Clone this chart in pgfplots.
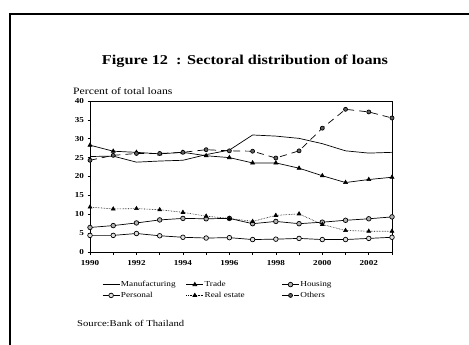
\documentclass[border=0pt]{standalone}
\usepackage{pgfplots}
\pgfplotsset{compat=1.18}
\usepackage{fontspec}
\setmainfont{Liberation Serif}[FakeStretch=1.2]
\begin{document}
\begin{tikzpicture}
\path[use as bounding box] (0,0) rectangle (469bp,345bp);
\draw[line width=1.5bp] (10bp,0) -- (10bp,331bp) -- (469bp,331bp);
\node[font=\bfseries\fontsize{13.6}{15}\selectfont] at (245bp,284bp) {Figure 12\ \ : Sectoral distribution of loans};
\node[anchor=west,inner sep=0,font=\fontsize{9.8}{12}\selectfont] at (73bp,254bp) {Percent of total loans};
\node[anchor=west,inner sep=0,font=\fontsize{8.9}{11}\selectfont] at (77bp,22bp) {Source:Bank of Thailand};
\begin{axis}[
  at={(90bp,93bp)}, anchor=south west,
  scale only axis, width=302bp, height=151bp,
  xmin=1990, xmax=2003, ymin=0, ymax=40,
  xtick={1990,1992,...,2002}, minor xtick={1991,1993,...,2003},
  ytick={0,5,...,40},
  xtick pos=left, ytick pos=left, tick align=outside,
  major tick length=2.5bp, minor tick length=2.5bp,
  tick style={black, line width=0.6bp},
  axis line style={line width=0.6bp},
  ticklabel style={font=\bfseries\fontsize{7.6}{8}\selectfont},
  /pgf/number format/assume math mode=true,
  /pgf/number format/1000 sep={},
  xticklabel style={yshift=-2bp},
  legend columns=3,
  legend style={at={(0.04,-0.185)}, anchor=north west, draw=none, fill=none,
    font=\fontsize{7.7}{9}\selectfont, inner sep=0pt, row sep=2pt,
    nodes={inner sep=1pt}},
  legend cell align=left,
]
\addplot[black, line width=0.7bp, mark=none] coordinates {
(1990,25.3)(1991,25.4)(1992,23.8)(1993,24.1)(1994,24.3)(1995,25.8)(1996,27.0)
(1997,31.0)(1998,30.7)(1999,30.1)(2000,28.7)(2001,26.8)(2002,26.2)(2003,26.4)};
\addlegendentry{\makebox[64bp][l]{Manufacturing}}
\addplot[black, line width=0.7bp, mark=triangle*, mark size=2.2bp, mark options={solid,fill=black}] coordinates {
(1990,28.3)(1991,26.7)(1992,26.4)(1993,26.0)(1994,26.4)(1995,25.5)(1996,25.0)
(1997,23.6)(1998,23.6)(1999,22.2)(2000,20.2)(2001,18.4)(2002,19.2)(2003,19.8)};
\addlegendentry{\makebox[76bp][l]{Trade}}
\addplot[black, line width=0.7bp, mark=*, mark size=2.3bp, mark options={solid,fill=gray!60,draw=black}] coordinates {
(1990,6.5)(1991,7.0)(1992,7.7)(1993,8.5)(1994,8.9)(1995,8.8)(1996,8.9)
(1997,7.5)(1998,8.1)(1999,7.5)(2000,7.9)(2001,8.4)(2002,8.8)(2003,9.3)};
\addlegendentry{Housing}
\addplot[black, line width=0.7bp, mark=*, mark size=2.3bp, mark options={solid,fill=gray!25,draw=black}] coordinates {
(1990,4.4)(1991,4.4)(1992,4.9)(1993,4.3)(1994,3.9)(1995,3.7)(1996,3.8)
(1997,3.3)(1998,3.4)(1999,3.6)(2000,3.3)(2001,3.3)(2002,3.6)(2003,3.9)};
\addlegendentry{\makebox[64bp][l]{Personal}}
\addplot[black, line width=0.6bp, densely dotted, mark=triangle*, mark size=2.2bp, mark options={solid,fill=black}] coordinates {
(1990,11.9)(1991,11.4)(1992,11.5)(1993,11.2)(1994,10.5)(1995,9.5)(1996,8.9)
(1997,8.1)(1998,9.7)(1999,10.1)(2000,7.3)(2001,5.7)(2002,5.5)(2003,5.5)};
\addlegendentry{\makebox[76bp][l]{Real estate}}
\addplot[black, line width=0.7bp, dash pattern=on 7bp off 5bp, mark=*, mark size=2bp, mark options={solid,fill=gray!75!black,draw=black}] coordinates {
(1990,24.3)(1991,25.6)(1992,26.1)(1993,26.1)(1994,26.4)(1995,27.1)(1996,26.8)
(1997,26.7)(1998,24.9)(1999,26.8)(2000,32.8)(2001,37.8)(2002,37.1)(2003,35.5)};
\addlegendentry{Others}
\end{axis}
\end{tikzpicture}
\end{document}
